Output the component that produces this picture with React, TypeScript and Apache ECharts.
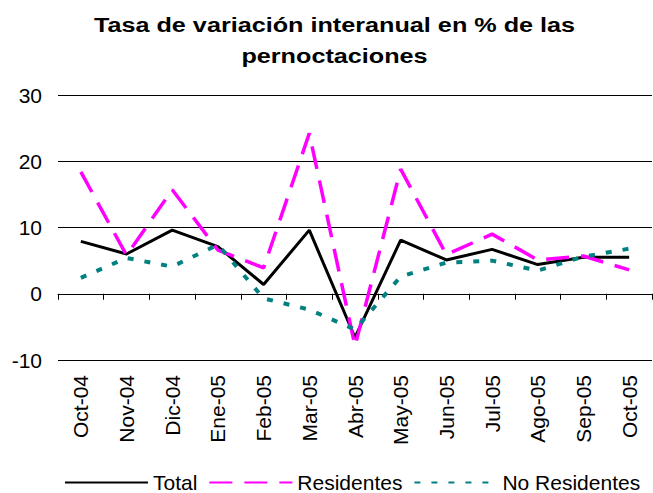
import React, { useEffect, useRef } from "react";
import * as echarts from "echarts";

const categories = ["Oct-04", "Nov-04", "Dic-04", "Ene-05", "Feb-05", "Mar-05", "Abr-05", "May-05", "Jun-05", "Jul-05", "Ago-05", "Sep-05", "Oct-05"];
const total = [7.9, 6.0, 9.6, 7.1, 1.4, 9.6, -6.6, 8.1, 5.1, 6.7, 4.4, 5.5, 5.5];
const residentes = [18.4, 5.8, 15.7, 6.6, 3.9, 24.2, -7.9, 18.8, 5.9, 9.0, 5.1, 5.7, 3.6];
const noResidentes = [2.4, 5.4, 4.1, 7.4, -0.7, -2.4, -5.4, 2.6, 4.7, 5.0, 3.5, 5.6, 6.8];
const yTicks = { min: -10, max: 30, interval: 10 };
const titleLines = ["Tasa de variación interanual en % de las", "pernoctaciones"];

const FONT = "Liberation Sans, Arial, sans-serif";

export default function App() {
  const ref = useRef<HTMLDivElement>(null);
  useEffect(() => {
    if (!ref.current) return;
    const chart = echarts.init(ref.current, undefined, { renderer: "svg" });
    chart.setOption({
      animation: false,
      backgroundColor: "#fff",
      graphic: titleLines.map((t, i) => ({
        type: "text",
        x: 334.5,
        y: 35 + i * 31,
        scaleX: 1.2,
        silent: true,
        style: {
          text: t,
          fontFamily: FONT,
          fontSize: 21,
          fontWeight: "bold",
          fill: "#000",
          textAlign: "center",
          textVerticalAlign: "bottom",
          verticalAlign: "alphabetic",
        },
      })),
      legend: {
        left: 64,
        top: 472,
        padding: 0,
        itemGap: 11,
        itemWidth: 83,
        itemHeight: 12,
        itemStyle: { opacity: 0, borderWidth: 0 },
        textStyle: { fontFamily: FONT, fontSize: 21, color: "#000" },
        data: ["Total", "Residentes", "No Residentes"],
      },
      grid: { left: 58, right: 1, top: 95, bottom: 133, containLabel: false, outerBoundsMode: "none" },
      xAxis: {
        type: "category",
        data: categories,
        boundaryGap: true,
        axisLine: { onZero: true, lineStyle: { color: "#000", width: 1 } },
        axisTick: { show: true, length: 6, alignWithLabel: false, lineStyle: { color: "#000" } },
        axisLabel: { rotate: 90, margin: 15, fontFamily: FONT, fontSize: 21, color: "#000", interval: 0 },
        splitLine: { show: false },
      },
      yAxis: {
        type: "value",
        min: yTicks.min,
        max: yTicks.max,
        interval: yTicks.interval,
        axisLine: { show: false },
        axisTick: { show: false },
        axisLabel: { margin: 16, fontFamily: FONT, fontSize: 21, color: "#000" },
        splitLine: { show: true, lineStyle: { color: "#000", width: 1 } },
      },
      series: [
        {
          name: "Total",
          type: "line",
          data: total,
          symbol: "none",
          lineStyle: { color: "#000", width: 3, type: "solid" },
          itemStyle: { color: "#000" },
        },
        {
          name: "Residentes",
          type: "line",
          data: residentes,
          symbol: "none",
          lineStyle: { color: "#FF00FF", width: 3.5, type: [23, 12] },
          itemStyle: { color: "#FF00FF" },
        },
        {
          name: "No Residentes",
          type: "line",
          data: noResidentes,
          symbol: "none",
          lineStyle: { color: "#008080", width: 4, type: [6, 11] },
          itemStyle: { color: "#008080" },
        },
      ],
    });
    return () => chart.dispose();
  }, []);
  return <div ref={ref} style={{ position: "absolute", left: 0, top: 0, width: 653, height: 493 }} />;
}
